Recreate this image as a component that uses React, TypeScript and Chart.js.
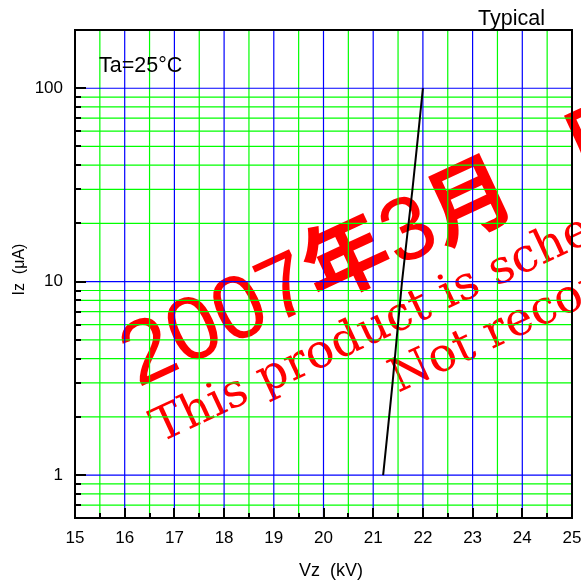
import { useEffect, useRef } from 'react';
import { Chart, registerables } from 'chart.js';

Chart.register(...registerables);

// ---- data ----
const vz = [21.2, 21.39, 21.58, 21.79, 22.0];
const iz = [1, 3, 10, 30, 100];

const xTickValues = [15, 15.5, 16, 16.5, 17, 17.5, 18, 18.5, 19, 19.5, 20, 20.5, 21, 21.5, 22, 22.5, 23, 23.5, 24, 24.5, 25];
const yTickValues = [0.7, 0.8, 0.9, 1, 2, 3, 4, 5, 6, 7, 8, 9, 10, 20, 30, 40, 50, 60, 70, 80, 90, 100];
const yLabelValues = [1, 10, 100];

const xTitle = '   Vz  (kV)';
const yTitle = '  Iz  (μA)';
const cornerNote = 'Typical';
const conditionNote = 'Ta=25°C';
const watermarkHead = ['2007', '年', '3', '月'];
const watermarkTail = '廃止予定';
const watermarkLines = [
  'This product is scheduled to be discontinued.',
  'Not recommended for new designs.',
];

const SANS = 'Arial, "Liberation Sans", sans-serif';
const CJK = '"Noto Sans CJK JP", sans-serif';
const SERIF = '"DejaVu Serif", serif';
const BLUE = '#0000ff';
const GREEN = '#00ff00';

const isDecade = (v: number) => yLabelValues.includes(v);
const isCjk = (s: string) => /[\u3000-\u9fff]/.test(s);

const watermarkPlugin = {
  id: 'watermark',
  beforeDraw(chart: any) {
    const ctx = chart.ctx as CanvasRenderingContext2D;
    const a = chart.chartArea;
    const ang = (-25 * Math.PI) / 180;
    ctx.save();
    ctx.fillStyle = '#ff0000';
    ctx.textAlign = 'left';
    ctx.textBaseline = 'alphabetic';

    // big heading, drawn piece by piece along the rotated baseline
    ctx.save();
    ctx.translate(a.left + 63, a.top + 358);
    ctx.rotate(ang);
    let u = 0;
    watermarkHead.forEach((s) => {
      ctx.font = isCjk(s) ? `bold 86px ${CJK}` : `90px ${SANS}`;
      ctx.fillText(s, u, 0);
      u += ctx.measureText(s).width;
    });
    ctx.font = `bold 86px ${CJK}`;
    ctx.fillText(watermarkTail, u + 70, 0);
    ctx.restore();

    ctx.font = `47px ${SERIF}`;
    ctx.save();
    ctx.translate(a.left + 85, a.top + 413);
    ctx.rotate(ang);
    ctx.fillText(watermarkLines[0], 0, 0);
    ctx.restore();

    ctx.save();
    ctx.translate(a.left + 323, a.top + 363);
    ctx.rotate(ang);
    ctx.fillText(watermarkLines[1], 0, 0);
    ctx.restore();

    ctx.restore();
  },
};

const gridPlugin = {
  id: 'paperGrid',
  beforeDatasetsDraw(chart: any) {
    const ctx = chart.ctx as CanvasRenderingContext2D;
    const a = chart.chartArea;
    const xs = chart.scales.x;
    const ys = chart.scales.y;
    ctx.save();
    ctx.lineWidth = 1.2;
    const vline = (v: number) => {
      const px = xs.getPixelForValue(v);
      ctx.beginPath();
      ctx.moveTo(px, a.top);
      ctx.lineTo(px, a.bottom);
      ctx.stroke();
    };
    const hline = (v: number) => {
      const py = ys.getPixelForValue(v);
      ctx.beginPath();
      ctx.moveTo(a.left, py);
      ctx.lineTo(a.right, py);
      ctx.stroke();
    };
    ctx.strokeStyle = GREEN;
    yTickValues.filter((v) => !isDecade(v)).forEach(hline);
    xTickValues.filter((v) => !Number.isInteger(v)).forEach(vline);
    ctx.strokeStyle = BLUE;
    yTickValues.filter((v) => isDecade(v)).forEach(hline);
    xTickValues.filter((v) => Number.isInteger(v)).forEach(vline);
    ctx.restore();
  },
};

const framePlugin = {
  id: 'frame',
  afterDraw(chart: any) {
    const ctx = chart.ctx as CanvasRenderingContext2D;
    const a = chart.chartArea;
    const xs = chart.scales.x;
    const ys = chart.scales.y;
    ctx.save();
    ctx.strokeStyle = '#000';
    ctx.lineWidth = 2;
    ctx.beginPath();
    xTickValues.forEach((v) => {
      const px = Math.round(xs.getPixelForValue(v));
      const len = Number.isInteger(v) ? 10 : 5;
      ctx.moveTo(px, a.bottom);
      ctx.lineTo(px, a.bottom - len);
    });
    yTickValues.forEach((v) => {
      const py = Math.round(ys.getPixelForValue(v));
      const len = isDecade(v) ? 11 : 6;
      ctx.moveTo(a.left, py);
      ctx.lineTo(a.left + len, py);
    });
    ctx.stroke();
    ctx.strokeRect(a.left, a.top, a.right - a.left, a.bottom - a.top);

    ctx.fillStyle = '#000';
    ctx.font = `21.5px ${SANS}`;
    ctx.textBaseline = 'alphabetic';
    ctx.textAlign = 'right';
    ctx.fillText(cornerNote, a.right - 27, a.top - 5);
    ctx.textAlign = 'left';
    ctx.fillText(conditionNote, a.left + 24, a.top + 42);
    ctx.restore();
  },
};

export default function App() {
  const ref = useRef<HTMLCanvasElement | null>(null);

  useEffect(() => {
    if (!ref.current) return;
    const chart = new Chart(ref.current, {
      type: 'line',
      data: {
        datasets: [
          {
            data: vz.map((x, i) => ({ x, y: iz[i] })),
            borderColor: '#000000',
            borderWidth: 2,
            pointRadius: 0,
            tension: 0.3,
            fill: false,
          },
        ],
      },
      options: {
        animation: false,
        responsive: false,
        devicePixelRatio: 1,
        layout: { padding: { left: 0, right: 9, top: 30, bottom: 0 } },
        plugins: {
          legend: { display: false },
          tooltip: { enabled: false },
          title: { display: false },
        },
        scales: {
          x: {
            type: 'linear',
            min: 15,
            max: 25,
            afterBuildTicks: (scale: any) => {
              scale.ticks = xTickValues.map((v) => ({ value: v }));
            },
            afterFit: (scale: any) => {
              scale.height = 66;
              scale.paddingLeft = 0;
              scale.paddingRight = 0;
            },
            grid: { display: false, drawTicks: false },
            border: { display: false },
            ticks: {
              autoSkip: false,
              maxRotation: 0,
              padding: 10,
              color: '#000',
              font: { family: SANS, size: 17 },
              callback: (v: any) => (Number.isInteger(v) ? String(v) : ''),
            },
            title: {
              display: true,
              text: xTitle,
              color: '#000',
              font: { family: SANS, size: 18 },
              padding: { top: 0, bottom: 2 },
            },
          },
          y: {
            type: 'logarithmic',
            min: 0.6,
            max: 200,
            afterBuildTicks: (scale: any) => {
              scale.ticks = yTickValues.map((v) => ({ value: v }));
            },
            afterFit: (scale: any) => {
              scale.width = 75;
              scale.paddingTop = 0;
              scale.paddingBottom = 0;
            },
            grid: { display: false, drawTicks: false },
            border: { display: false },
            ticks: {
              autoSkip: false,
              padding: 12,
              color: '#000',
              font: { family: SANS, size: 17 },
              callback: (v: any) => (isDecade(Number(v)) ? String(v) : ''),
            },
            title: {
              display: true,
              text: yTitle,
              color: '#000',
              font: { family: SANS, size: 16 },
              padding: { top: 10, bottom: 0 },
            },
          },
        },
      },
      plugins: [watermarkPlugin, gridPlugin, framePlugin],
    });
    return () => chart.destroy();
  }, []);

  return (
    <div style={{ position: 'absolute', left: 0, top: 0, width: 581, height: 584, background: '#fff' }}>
      <canvas ref={ref} width={581} height={584} style={{ display: 'block', width: 581, height: 584 }} />
    </div>
  );
}
